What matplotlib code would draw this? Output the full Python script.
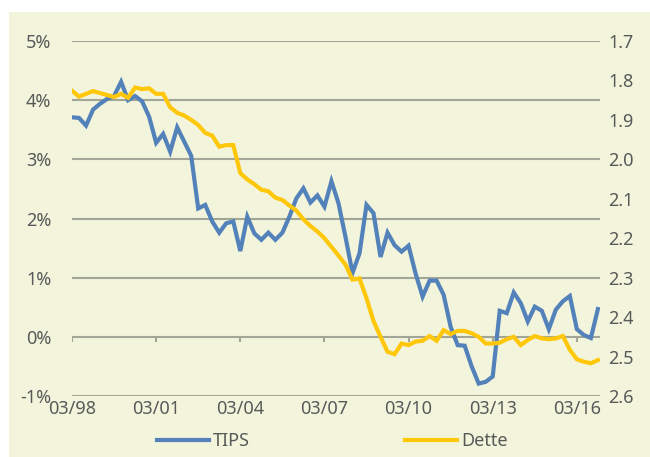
import numpy as np
import matplotlib.pyplot as plt
from matplotlib.lines import Line2D
from matplotlib.patches import Rectangle

# quarterly series, 03/98 .. 12/16
tips = [3.71, 3.70, 3.57, 3.84, 3.94, 4.02, 4.07, 4.31, 4.00, 4.07,
        3.98, 3.72, 3.28, 3.43, 3.13, 3.54, 3.30, 3.06, 2.17, 2.23,
        1.95, 1.76, 1.92, 1.95, 1.45, 2.03, 1.75, 1.64, 1.76, 1.64,
        1.76, 2.03, 2.34, 2.51, 2.27, 2.39, 2.20, 2.63, 2.26, 1.69,
        1.08, 1.41, 2.23, 2.09, 1.35, 1.76, 1.55, 1.44, 1.54, 1.07,
        0.68, 0.95, 0.95, 0.71, 0.17, -0.14, -0.15, -0.50, -0.79, -0.76,
        -0.67, 0.44, 0.40, 0.75, 0.57, 0.26, 0.51, 0.44, 0.13, 0.46,
        0.60, 0.69, 0.13, 0.03, -0.02, 0.47]

dette = [1.826, 1.841, 1.834, 1.827, 1.832, 1.837, 1.842, 1.834, 1.844, 1.818,
         1.822, 1.820, 1.834, 1.834, 1.868, 1.882, 1.889, 1.900, 1.913, 1.933,
         1.940, 1.968, 1.964, 1.964, 2.035, 2.051, 2.063, 2.077, 2.081, 2.097,
         2.103, 2.117, 2.130, 2.152, 2.169, 2.183, 2.200, 2.222, 2.244, 2.267,
         2.305, 2.302, 2.352, 2.410, 2.450, 2.488, 2.494, 2.467, 2.471, 2.462,
         2.460, 2.448, 2.460, 2.433, 2.443, 2.435, 2.435, 2.441, 2.450, 2.467,
         2.467, 2.465, 2.456, 2.450, 2.471, 2.458, 2.448, 2.454, 2.456, 2.454,
         2.448, 2.483, 2.507, 2.513, 2.517, 2.509]

tick_labels = ['03/98', '03/01', '03/04', '03/07', '03/10', '03/13', '03/16']
left_ticks = [-1, 0, 1, 2, 3, 4, 5]
right_ticks = [1.7, 1.8, 1.9, 2.0, 2.1, 2.2, 2.3, 2.4, 2.5, 2.6]

bg = '#f2f5dc'
txt = '#595959'
blue = '#5381b9'
yellow = '#ffc70a'
fs = 13

plt.rcParams['font.family'] = ['Noto Sans', 'DejaVu Sans']

fig = plt.figure(figsize=(6.5, 4.57), dpi=100)
fig.patch.set_facecolor('white')
fig.patches.append(Rectangle((0.014, 0), 0.986, 0.974, transform=fig.transFigure,
                             facecolor=bg, edgecolor='none', zorder=-10))

ax = fig.add_axes([72/650, 1 - 396/457, 528/650, 355/457])
ax.set_facecolor('none')
x = np.arange(len(tips))

for t in left_ticks:
    ax.axhline(t, color='#a3a597', lw=1.5, zorder=1)
xt = np.arange(0, 73, 12)
ax.vlines(xt, -0.085, 0, color='#a3a597', lw=1.5, zorder=1)

ax.plot(x, tips, color=blue, lw=3, solid_joinstyle='miter', zorder=3)
ax.set_xlim(0, 75.3)
ax.set_ylim(-1, 5)
ax.set_yticks(left_ticks)
ax.set_yticklabels([f'{t}%' for t in left_ticks])
ax.set_xticks(xt)
ax.set_xticklabels(tick_labels)
ax.tick_params(axis='y', length=0, pad=15, labelsize=fs, labelcolor=txt)
ax.tick_params(axis='x', length=0, pad=3, labelsize=fs, labelcolor=txt)
for s in ax.spines.values():
    s.set_visible(False)

ax2 = ax.twinx()
ax2.plot(x, dette, color=yellow, lw=3, solid_joinstyle='miter', zorder=3)
ax2.set_ylim(2.6, 1.7)
ax2.set_yticks(right_ticks)
ax2.set_yticklabels([f'{t:.1f}' for t in right_ticks])
ax2.tick_params(axis='y', length=0, pad=6, labelsize=fs, labelcolor=txt)
for s in ax2.spines.values():
    s.set_visible(False)

handles = [Line2D([], [], color=blue, lw=3), Line2D([], [], color=yellow, lw=3)]
fig.legend(handles, ['TIPS', 'Dette'], loc='center', bbox_to_anchor=(332/650, 1 - 441/457),
           ncol=2, frameon=False, fontsize=fs, labelcolor=txt, handlelength=2.9,
           handletextpad=0.2, columnspacing=8.6)

fig.savefig('out.png', dpi=100, facecolor=fig.get_facecolor())
